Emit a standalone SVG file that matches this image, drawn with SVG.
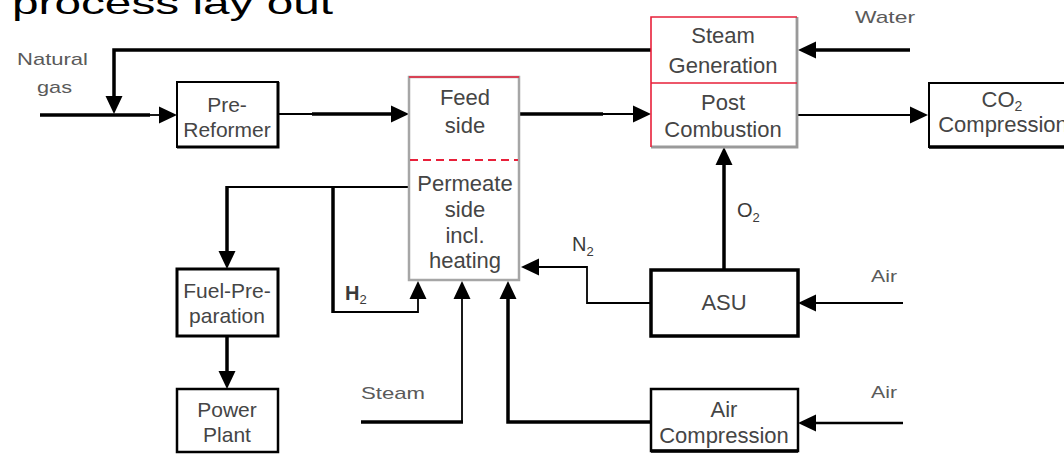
<svg xmlns="http://www.w3.org/2000/svg" width="1064" height="454" viewBox="0 0 1064 454">
<style>
.box{fill:#fff;stroke:#000;stroke-width:2}
.sh{fill:none;stroke:#000;stroke-width:3}
.t{font-family:"Liberation Sans",Arial,sans-serif;font-size:22px;fill:#454545;text-anchor:middle}
.t21{font-size:21px}
.lb{font-family:"Liberation Sans",Arial,sans-serif;font-size:17px;fill:#5a5a5a}
.ch{font-family:"Liberation Sans",Arial,sans-serif;font-size:20px;fill:#3a3a3a}
.thick{fill:none;stroke:#000;stroke-width:3.5}
.thin{fill:none;stroke:#000;stroke-width:1.8}
.red{fill:none;stroke:#e8203a;stroke-width:1.6}
.arr{marker-end:url(#ah)}
</style>
<defs>
<marker id="ah" markerUnits="userSpaceOnUse" viewBox="0 0 18 18" markerWidth="18" markerHeight="18" refX="12" refY="9" orient="auto">
<path d="M0,0.5 L18,9 L0,17.5 z" fill="#000"/>
</marker>
</defs>
<rect width="1064" height="454" fill="#fff"/>

<text x="12" y="13.5" font-family="Liberation Sans, Arial, sans-serif" font-size="32" fill="#000" textLength="321" lengthAdjust="spacingAndGlyphs">process lay out</text>

<g id="connectors">
<path class="thick" d="M40,115 H150"/>
<path class="thin arr" d="M149,115 H171"/>
<path class="thick arr" d="M651,50 H114 V108"/>
<path class="thin" d="M278,114 H313"/>
<path class="thick arr" d="M312,114 H403"/>
<path class="thick" d="M519,114 H603"/>
<path class="thin arr" d="M602,114 H645"/>
<path class="thin arr" d="M797,115 H922"/>
<path class="thick arr" d="M910,50 H804"/>
<path class="thin" d="M409,187 H226"/>
<path class="thick arr" d="M227,186 V263"/>
<path class="thick" d="M333,186 V313"/>
<path class="thin arr" d="M332,312 H418 V287"/>
<path class="thick arr" d="M227,336 V383"/>
<path class="thick" d="M361,422 H463"/>
<path class="thin arr" d="M462,423 V287"/>
<path class="thick arr" d="M651,422 H508 V287"/>
<path class="thin arr" d="M651,303 H587 V267 H527"/>
<path class="thick arr" d="M724,270 V153"/>
<path class="thin arr" d="M903,303 H804"/>
<path class="thick arr" d="M903,423 H804" style="stroke-width:2.6"/>
</g>

<g id="labels">
<text class="lb" x="17" y="65" textLength="71" lengthAdjust="spacingAndGlyphs">Natural</text>
<text class="lb" x="37" y="93" textLength="35" lengthAdjust="spacingAndGlyphs">gas</text>
<text class="lb" x="855" y="23" textLength="60" lengthAdjust="spacingAndGlyphs">Water</text>
<text class="lb" x="871" y="282" textLength="26" lengthAdjust="spacingAndGlyphs">Air</text>
<text class="lb" x="871" y="398" textLength="26" lengthAdjust="spacingAndGlyphs">Air</text>
<text class="lb" x="361" y="399" textLength="64" lengthAdjust="spacingAndGlyphs">Steam</text>
<text class="ch" x="737" y="217">O<tspan font-size="13" dy="5">2</tspan></text>
<text class="ch" x="572" y="251">N<tspan font-size="13" dy="5">2</tspan></text>
<text class="ch" x="345" y="300" font-weight="bold" font-size="21" fill="#111">H<tspan font-size="13" dy="4" font-weight="normal">2</tspan></text>
</g>

<g id="pre-reformer">
<rect class="box" x="177" y="82" width="101" height="65"/>
<path class="sh" d="M278,82 V147 H177"/>
<text class="t t21" x="227" y="112">Pre-</text>
<text class="t t21" x="227" y="137">Reformer</text>
</g>

<g id="membrane">
<rect x="409" y="77" width="110" height="203" fill="#fff" stroke="#a6a6a6" stroke-width="2.5"/>
<line class="red" x1="409" y1="77" x2="519" y2="77"/>
<line class="red" x1="410" y1="160" x2="518" y2="160" stroke-dasharray="8,5" style="stroke-width:1.8"/>
<text class="t" x="465" y="105">Feed</text>
<text class="t" x="465" y="133">side</text>
<text class="t" x="465" y="191">Permeate</text>
<text class="t" x="465" y="217">side</text>
<text class="t" x="465" y="243">incl.</text>
<text class="t" x="465" y="268">heating</text>
</g>

<g id="steam-post">
<rect x="651" y="17" width="146" height="130" fill="#fff"/>
<path d="M797,17 V147 H651" fill="none" stroke="#9a9a9a" stroke-width="2.8"/>
<path class="red" d="M651,147 V17 H797 M651,83 H797"/>
<text class="t" x="723" y="43">Steam</text>
<text class="t" x="723" y="73">Generation</text>
<text class="t" x="723" y="110">Post</text>
<text class="t" x="723" y="137">Combustion</text>
</g>

<g id="co2-compression">
<rect class="box" x="929" y="83" width="150" height="64"/>
<path class="sh" d="M929,147 H1064" style="stroke-width:3.5"/>
<text class="t" x="1002" y="107">CO<tspan font-size="14" dy="4">2</tspan></text>
<text class="t" x="1003" y="132">Compression</text>
</g>

<g id="fuel-preparation">
<rect class="box" x="177" y="269" width="101" height="67" style="stroke-width:3"/>
<text class="t t21" x="227" y="298">Fuel-Pre-</text>
<text class="t t21" x="227" y="323">paration</text>
</g>

<g id="power-plant">
<rect class="box" x="177" y="389" width="101" height="63" style="stroke-width:2.5"/>
<text class="t t21" x="227" y="417">Power</text>
<text class="t t21" x="227" y="442">Plant</text>
</g>

<g id="asu">
<rect class="box" x="651" y="270" width="147" height="66" style="stroke-width:3.5"/>
<text class="t" x="724" y="310">ASU</text>
</g>

<g id="air-compression">
<rect class="box" x="651" y="389" width="147" height="62" style="stroke-width:2.5"/>
<path class="sh" d="M651,451 H798" style="stroke-width:3.5"/>
<text class="t" x="724" y="417">Air</text>
<text class="t" x="724" y="443">Compression</text>
</g>
</svg>
